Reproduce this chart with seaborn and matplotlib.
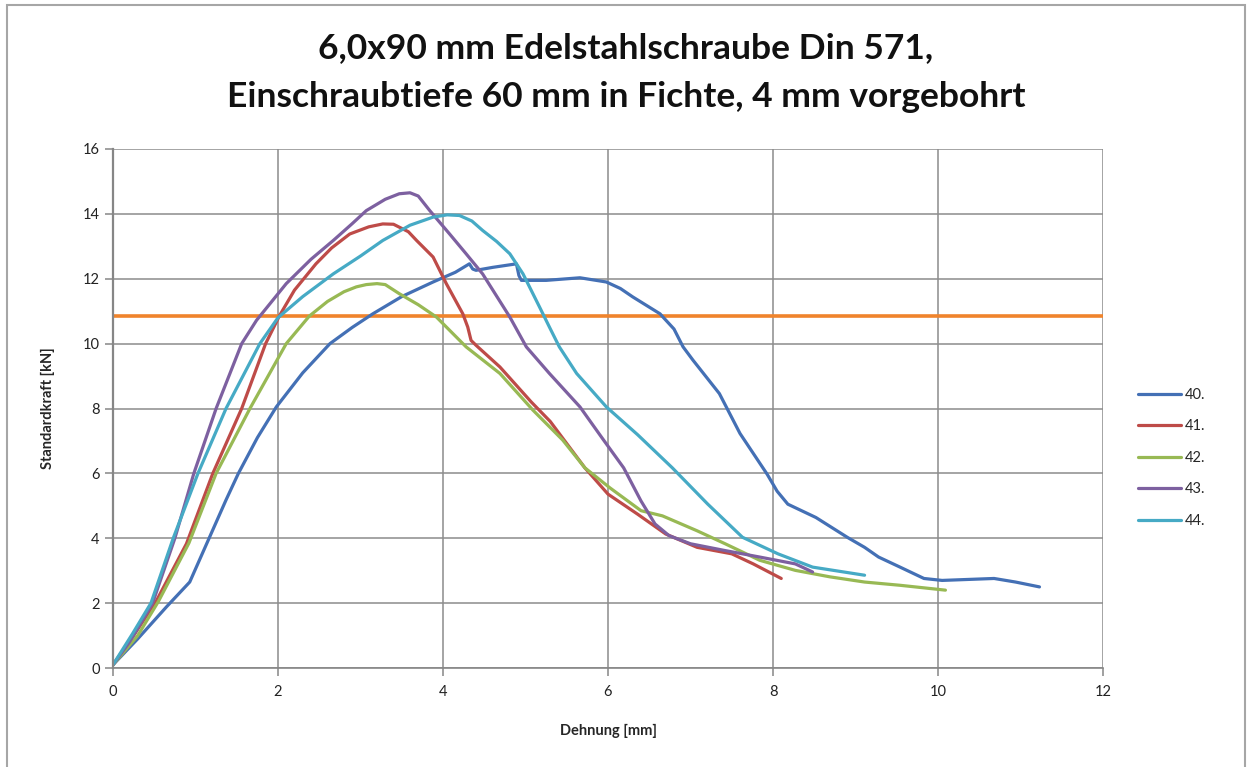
import numpy as np
import pandas as pd
import seaborn as sns
import matplotlib.pyplot as plt
from matplotlib.patches import Rectangle

sns.set_style("white")
plt.rcParams['font.family'] = ['Lato', 'DejaVu Sans']

# Messreihen (Dehnung [mm], Standardkraft [kN])
x40 = [0, 0.3, 0.65, 0.93, 1.17, 1.37, 1.52, 1.75, 1.98, 2.3, 2.63, 2.9, 3.15, 3.5, 3.88, 4.15, 4.32, 4.36, 4.4, 4.6,
       4.89, 4.92, 4.95, 5.25, 5.66, 5.98, 6.15, 6.3, 6.63, 6.8, 6.91, 7.03, 7.35, 7.6, 7.93, 8.05, 8.18, 8.52, 8.9, 9.11,
       9.28, 9.54, 9.83, 10.05, 10.68, 10.94, 11.23]
y40 = [0.1, 0.9, 1.89, 2.65, 4.03, 5.18, 6.0, 7.1, 8.05, 9.1, 10.0, 10.5, 10.92, 11.45, 11.9, 12.2, 12.46, 12.3, 12.26, 12.35,
       12.46, 12.1, 11.95, 11.95, 12.03, 11.9, 11.7, 11.44, 10.92, 10.45, 9.9, 9.49, 8.46, 7.23, 5.97, 5.45, 5.05, 4.64, 4.03, 3.72,
       3.42, 3.11, 2.76, 2.7, 2.76, 2.65, 2.5]

x41 = [0, 0.25, 0.53, 0.89, 1.21, 1.56, 1.85, 2.02, 2.2, 2.46, 2.65, 2.87, 3.1, 3.27, 3.4, 3.58, 3.68, 3.88, 4.04, 4.24,
       4.3, 4.34, 4.4, 4.69, 5.07, 5.3, 5.72, 6.0, 6.36, 6.7, 7.08, 7.5, 7.76, 8.1]
y41 = [0.1, 1.0, 2.09, 3.83, 6.0, 8.0, 10.0, 10.87, 11.65, 12.46, 12.95, 13.38, 13.6, 13.69, 13.68, 13.45, 13.18, 12.67, 11.85, 10.92,
       10.51, 10.1, 9.95, 9.28, 8.2, 7.6, 6.17, 5.36, 4.74, 4.13, 3.72, 3.52, 3.21, 2.76]

x42 = [0, 0.3, 0.55, 0.92, 1.25, 1.66, 2.1, 2.38, 2.6, 2.8, 2.95, 3.07, 3.2, 3.3, 3.47, 3.7, 3.92, 4.28, 4.69, 5.09,
       5.45, 5.72, 6.02, 6.4, 6.66, 7.08, 7.42, 7.84, 8.27, 8.69, 9.11, 9.54, 10.09]
y42 = [0.1, 1.0, 2.05, 3.85, 6.0, 8.0, 10.0, 10.85, 11.3, 11.6, 11.75, 11.82, 11.85, 11.82, 11.54, 11.2, 10.82, 9.9, 9.08, 7.95,
       7.03, 6.17, 5.56, 4.85, 4.69, 4.23, 3.83, 3.32, 3.01, 2.81, 2.65, 2.55, 2.4]

x43 = [0, 0.2, 0.48, 0.75, 0.98, 1.25, 1.56, 1.74, 2.1, 2.4, 2.67, 2.9, 3.07, 3.3, 3.47, 3.6, 3.7, 3.84, 4.08, 4.28,
       4.48, 4.81, 5.01, 5.29, 5.66, 5.94, 6.19, 6.4, 6.57, 6.74, 7.0, 7.42, 7.84, 8.27, 8.48]
y43 = [0.1, 0.8, 2.0, 4.0, 6.0, 8.0, 10.0, 10.72, 11.85, 12.6, 13.18, 13.7, 14.1, 14.45, 14.62, 14.65, 14.55, 14.1, 13.38, 12.77,
       12.15, 10.82, 9.9, 9.08, 8.05, 7.05, 6.17, 5.15, 4.44, 4.08, 3.83, 3.62, 3.42, 3.21, 2.96]

x44 = [0, 0.24, 0.46, 0.73, 1.03, 1.37, 1.78, 2.0, 2.3, 2.67, 3.0, 3.27, 3.6, 3.88, 4.05, 4.2, 4.35, 4.48, 4.65, 4.81,
       4.97, 5.17, 5.29, 5.41, 5.62, 5.98, 6.36, 6.78, 7.21, 7.63, 8.06, 8.48, 9.11]
y44 = [0.1, 1.07, 2.0, 4.0, 6.0, 8.0, 10.0, 10.8, 11.45, 12.15, 12.7, 13.18, 13.65, 13.9, 13.97, 13.95, 13.78, 13.49, 13.15, 12.77,
       12.15, 11.13, 10.51, 9.9, 9.08, 8.05, 7.19, 6.17, 5.05, 4.03, 3.52, 3.11, 2.86]

labels = ['40.', '41.', '42.', '43.', '44.']
colors = ['#4470B5', '#BE4B48', '#98B954', '#7D60A0', '#46AAC5']
grenze = 10.85  # waagrechte Linie

frames = []
for lab, xs, ys in zip(labels, [x40, x41, x42, x43, x44], [y40, y41, y42, y43, y44]):
    frames.append(pd.DataFrame({'Dehnung': xs, 'Kraft': ys, 'Probe': lab}))
df = pd.concat(frames, ignore_index=True)

fig = plt.figure(figsize=(12.47, 7.67), dpi=100)
ax = fig.add_axes([113 / 1247, 1 - 668 / 767, 990 / 1247, 519 / 767])

sns.lineplot(data=df, x='Dehnung', y='Kraft', hue='Probe', palette=colors,
             estimator=None, sort=False, linewidth=2.3, ax=ax)
ax.axhline(grenze, color='#F0842C', linewidth=2.6, zorder=1)

ax.set_xlim(0, 12)
ax.set_ylim(0, 16)
ax.set_xticks(range(0, 13, 2))
ax.set_yticks(range(0, 17, 2))
ax.grid(True, color='#8C8C8C', linewidth=1.1)
ax.set_axisbelow(True)
for s in ['top', 'right']:
    ax.spines[s].set_visible(False)
ax.spines['left'].set_color('#868686')
ax.spines['left'].set_linewidth(1.6)
ax.spines['bottom'].set_color('#868686')
ax.spines['bottom'].set_linewidth(1.2)
ax.tick_params(axis='both', direction='out', length=6, width=1.1, color='#868686',
               labelsize=10.5, labelcolor='#222222', left=True, bottom=True)
ax.tick_params(axis='x', pad=6)

ax.set_xlabel('Dehnung [mm]', fontsize=10.5, fontweight='bold', labelpad=18)
ax.set_ylabel('Standardkraft [kN]', fontsize=10.5, fontweight='bold', labelpad=20)

fig.text(626 / 1247, 1 - 48 / 767, '6,0x90 mm Edelstahlschraube Din 571,',
         ha='center', va='center', fontsize=25.5, fontweight='bold', color='#111111')
fig.text(626 / 1247, 1 - 97 / 767, 'Einschraubtiefe 60 mm in Fichte, 4 mm vorgebohrt',
         ha='center', va='center', fontsize=25.5, fontweight='bold', color='#111111')

ax.legend(loc='center left', bbox_to_anchor=(1.035, 0.405), frameon=False,
          fontsize=10.5, handlelength=3.0, handletextpad=0.2, labelspacing=1.2,
          borderpad=0, borderaxespad=0)

fig.patches.append(Rectangle((7 / 1247, -0.01), 1238 / 1247, 1 - 5 / 767 + 0.01,
                             transform=fig.transFigure, fill=False,
                             edgecolor='#A6A6A6', linewidth=1.5))

fig.savefig('out.png', dpi=100)
